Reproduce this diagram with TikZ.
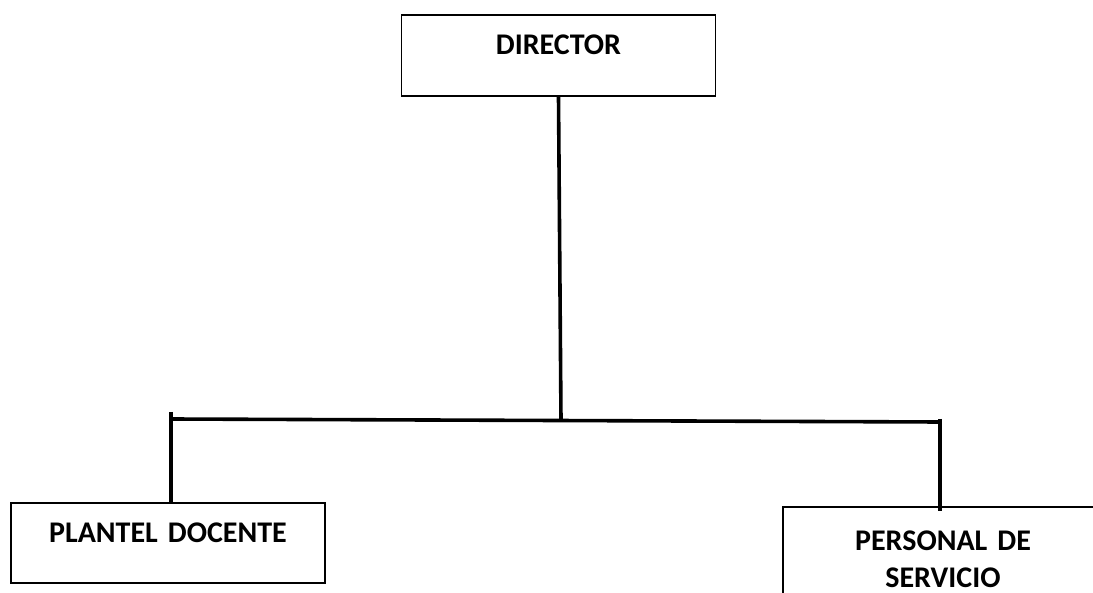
\documentclass[tikz,border=0pt]{standalone}
\usepackage{fontspec}
\setmainfont[WordSpace=0.3]{Carlito}
\usetikzlibrary{positioning,calc}

\begin{document}
\begin{tikzpicture}[x=1pt,y=-1pt,
	caja/.style={draw, line width=1.8pt, inner sep=0pt, minimum width=314pt, text width=300pt, align=center, text height=19pt, font=\fontsize{30}{37}\selectfont\bfseries},
	linea/.style={line width=3.6pt}]
	\useasboundingbox (0,0) rectangle (1093,593);

	% Cajas
	\node[caja, minimum height=81pt, text depth=20pt] (director) at (558.5,55.5) {DIRECTOR};
	\node[caja, minimum height=80pt, text depth=19pt] (plantel) at (168,543) {PLANTEL DOCENTE};
	\node[caja, minimum width=320pt, minimum height=120pt, text depth=53pt] (personal) at (943,567) {PERSONAL DE\\SERVICIO};

	% Lineas
	\coordinate (cruce) at (561,420);
	\coordinate (izq) at (171,412);
	\coordinate (der) at (940,419);
	\coordinate (izqh) at (171,419);
	\coordinate (derh) at (940,422);
	\draw[linea] (director.south) -- (cruce);
	\draw[linea] (izqh) -- (derh);
	\draw[linea] (izq) -- (izq |- plantel.north);
	\draw[linea] (der) -- ($(der |- personal.north)+(0,5)$);
\end{tikzpicture}
\end{document}
